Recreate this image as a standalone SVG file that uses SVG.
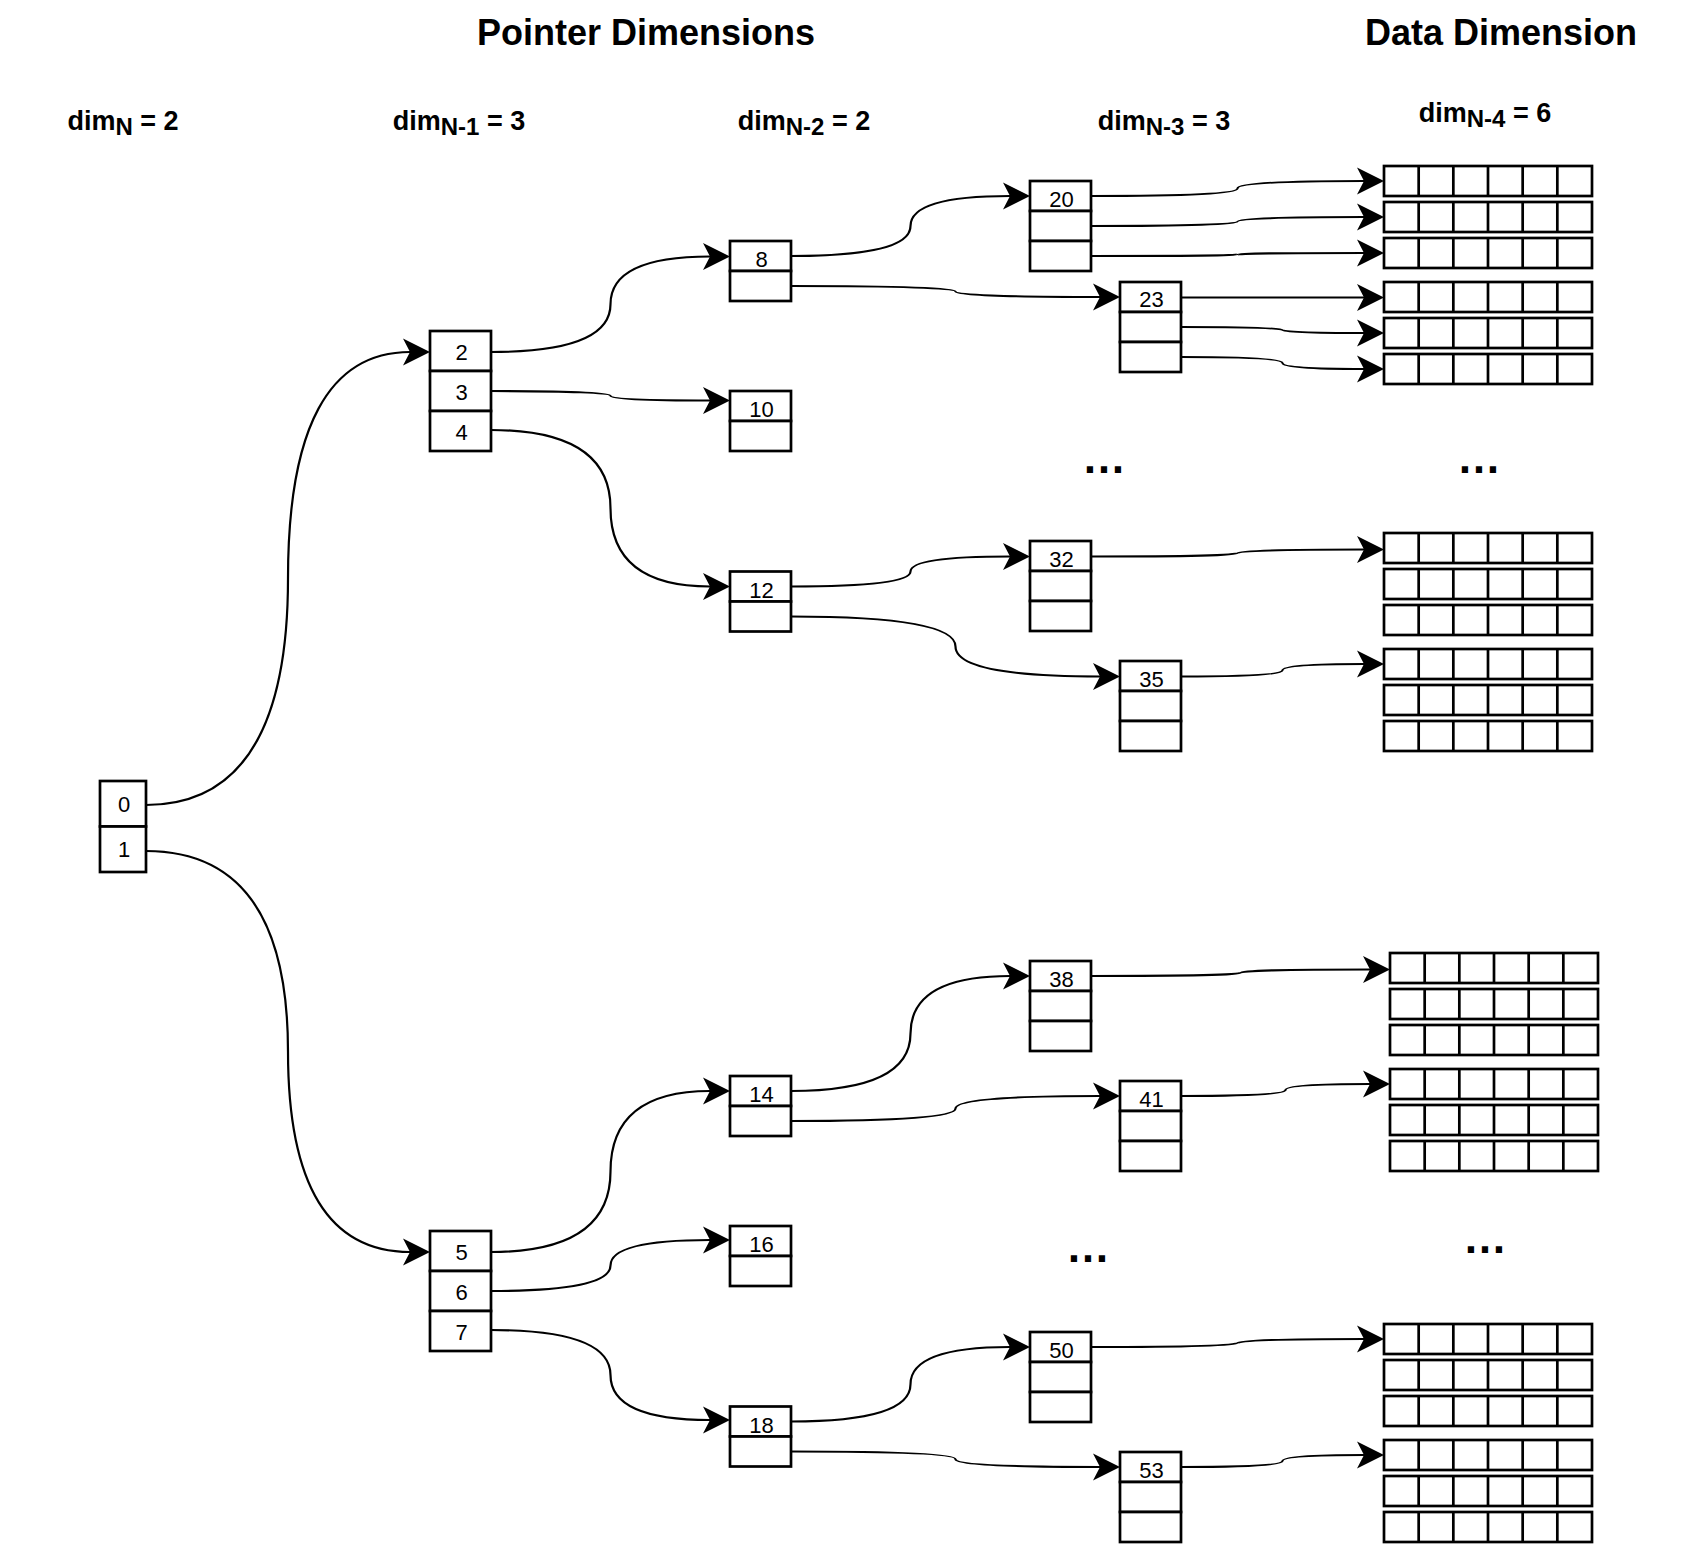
<svg xmlns="http://www.w3.org/2000/svg" width="1707" height="1545" viewBox="0 0 1707 1545">
<style>
text{font-family:"Liberation Sans",Arial,Helvetica,sans-serif;fill:#000}
.title{font-size:36px;font-weight:bold;text-anchor:middle}
.hdr{font-size:27px;font-weight:bold;text-anchor:middle}
.sub{font-size:24px}
.num{font-size:22px;text-anchor:middle}
.dots{font-size:44px;font-weight:bold;text-anchor:middle}
.cell{fill:#fff;stroke:#000;stroke-width:2.7}
.grid{fill:#fff;stroke:#000;stroke-width:2.7}
.edge{fill:none;stroke:#000;stroke-width:2.2;marker-end:url(#arr)}
</style>
<defs>
<marker id="arr" markerUnits="userSpaceOnUse" markerWidth="28" markerHeight="28" viewBox="0 -14 28 28" refX="7" refY="0" orient="auto">
<path d="M27,0 L0,-13.5 L7,0 L0,13.5 Z" fill="#000"/>
</marker>
<g id="row">
<rect class="grid" x="0" y="0" width="208" height="30"/>
<path class="grid" d="M34.67,0V30M69.33,0V30M104,0V30M138.67,0V30M173.33,0V30"/>
</g>
</defs>
<rect width="1707" height="1545" fill="#fff"/>

<g id="titles">
<text class="title" x="646" y="45">Pointer Dimensions</text>
<text class="title" x="1501" y="45">Data Dimension</text>
<text class="hdr" x="123" y="130">dim<tspan class="sub" dy="5">N</tspan><tspan dy="-5"> = 2</tspan></text>
<text class="hdr" x="459" y="130">dim<tspan class="sub" dy="5">N-1</tspan><tspan dy="-5"> = 3</tspan></text>
<text class="hdr" x="804" y="129.5">dim<tspan class="sub" dy="5">N-2</tspan><tspan dy="-5"> = 2</tspan></text>
<text class="hdr" x="1164" y="129.5">dim<tspan class="sub" dy="5">N-3</tspan><tspan dy="-5"> = 3</tspan></text>
<text class="hdr" x="1485" y="122">dim<tspan class="sub" dy="5">N-4</tspan><tspan dy="-5"> = 6</tspan></text>
<text class="dots" x="1104" y="473">…</text>
<text class="dots" x="1479" y="473">…</text>
<text class="dots" x="1088" y="1262">…</text>
<text class="dots" x="1485" y="1253">…</text>
</g>

<g id="connectors">
<path class="edge" d="M146,805 Q288,805 288,578.5 Q288,352 410,352"/>
<path class="edge" d="M146,851 Q288,851 288,1051.5 Q288,1252 410,1252"/>
<path class="edge" d="M491,352 Q610.5,352 610.5,304.25 Q610.5,256.5 710,256.5"/>
<path class="edge" d="M491,391 Q610.5,391 610.5,395.75 Q610.5,400.5 710,400.5"/>
<path class="edge" d="M491,430 Q610.5,430 610.5,508.25 Q610.5,586.5 710,586.5"/>
<path class="edge" d="M491,1252 Q610.5,1252 610.5,1171.5 Q610.5,1091 710,1091"/>
<path class="edge" d="M491,1291 Q610.5,1291 610.5,1265.5 Q610.5,1240 710,1240"/>
<path class="edge" d="M491,1330 Q610.5,1330 610.5,1375 Q610.5,1420 710,1420"/>
<path class="edge" d="M791,256 Q910.5,256 910.5,226 Q910.5,196 1010,196"/>
<path class="edge" d="M791,286 Q955.5,286 955.5,291.5 Q955.5,297 1100,297"/>
<path class="edge" d="M791,586.5 Q910.5,586.5 910.5,571.5 Q910.5,556.5 1010,556.5"/>
<path class="edge" d="M791,616.5 Q955.5,616.5 955.5,646.5 Q955.5,676.5 1100,676.5"/>
<path class="edge" d="M791,1091 Q910.5,1091 910.5,1033.5 Q910.5,976 1010,976"/>
<path class="edge" d="M791,1121 Q955.5,1121 955.5,1108.5 Q955.5,1096 1100,1096"/>
<path class="edge" d="M791,1421.5 Q910.5,1421.5 910.5,1384.25 Q910.5,1347 1010,1347"/>
<path class="edge" d="M791,1451.5 Q955.5,1451.5 955.5,1459.25 Q955.5,1467 1100,1467"/>
<path class="edge" d="M1091,196 Q1237.5,196 1237.5,188.5 Q1237.5,181 1364,181"/>
<path class="edge" d="M1091,226 Q1237.5,226 1237.5,221.5 Q1237.5,217 1364,217"/>
<path class="edge" d="M1091,256 Q1237.5,256 1237.5,254.5 Q1237.5,253 1364,253"/>
<path class="edge" d="M1181,297.5 L1364,297.5"/>
<path class="edge" d="M1181,327 Q1282.5,327 1282.5,330 Q1282.5,333 1364,333"/>
<path class="edge" d="M1181,357 Q1282.5,357 1282.5,363 Q1282.5,369 1364,369"/>
<path class="edge" d="M1091,556.5 Q1237.5,556.5 1237.5,553 Q1237.5,549.5 1364,549.5"/>
<path class="edge" d="M1181,676.5 Q1282.5,676.5 1282.5,670.25 Q1282.5,664 1364,664"/>
<path class="edge" d="M1091,976 Q1240.5,976 1240.5,972.75 Q1240.5,969.5 1370,969.5"/>
<path class="edge" d="M1181,1096 Q1285.5,1096 1285.5,1090 Q1285.5,1084 1370,1084"/>
<path class="edge" d="M1091,1347 Q1237.5,1347 1237.5,1343 Q1237.5,1339 1364,1339"/>
<path class="edge" d="M1181,1467 Q1282.5,1467 1282.5,1461 Q1282.5,1455 1364,1455"/>
</g>

<g id="node-0-1">
<rect class="cell" x="100" y="781" width="46" height="45.5"/>
<rect class="cell" x="100" y="826.5" width="46" height="45.5"/>
<text class="num" x="124" y="812">0</text>
<text class="num" x="124" y="857">1</text>
</g>

<g id="node-2-3-4">
<rect class="cell" x="430" y="331" width="61" height="40"/>
<rect class="cell" x="430" y="371" width="61" height="40"/>
<rect class="cell" x="430" y="411" width="61" height="40"/>
<text class="num" x="461.5" y="360">2</text>
<text class="num" x="461.5" y="400">3</text>
<text class="num" x="461.5" y="440">4</text>
</g>

<g id="node-5-6-7">
<rect class="cell" x="430" y="1231" width="61" height="40"/>
<rect class="cell" x="430" y="1271" width="61" height="40"/>
<rect class="cell" x="430" y="1311" width="61" height="40"/>
<text class="num" x="461.5" y="1260">5</text>
<text class="num" x="461.5" y="1300">6</text>
<text class="num" x="461.5" y="1340">7</text>
</g>

<g id="node-8">
<rect class="cell" x="730" y="241" width="61" height="30"/>
<rect class="cell" x="730" y="271" width="61" height="30"/>
<text class="num" x="761.5" y="267">8</text>
</g>
<g id="node-10">
<rect class="cell" x="730" y="391" width="61" height="30"/>
<rect class="cell" x="730" y="421" width="61" height="30"/>
<text class="num" x="761.5" y="417">10</text>
</g>
<g id="node-12">
<rect class="cell" x="730" y="571.5" width="61" height="30"/>
<rect class="cell" x="730" y="601.5" width="61" height="30"/>
<text class="num" x="761.5" y="597.5">12</text>
</g>
<g id="node-14">
<rect class="cell" x="730" y="1076" width="61" height="30"/>
<rect class="cell" x="730" y="1106" width="61" height="30"/>
<text class="num" x="761.5" y="1102">14</text>
</g>
<g id="node-16">
<rect class="cell" x="730" y="1226" width="61" height="30"/>
<rect class="cell" x="730" y="1256" width="61" height="30"/>
<text class="num" x="761.5" y="1252">16</text>
</g>
<g id="node-18">
<rect class="cell" x="730" y="1406.5" width="61" height="30"/>
<rect class="cell" x="730" y="1436.5" width="61" height="30"/>
<text class="num" x="761.5" y="1432.5">18</text>
</g>

<g id="node-20">
<rect class="cell" x="1030" y="181" width="61" height="30"/>
<rect class="cell" x="1030" y="211" width="61" height="30"/>
<rect class="cell" x="1030" y="241" width="61" height="30"/>
<text class="num" x="1061.5" y="207">20</text>
</g>
<g id="node-23">
<rect class="cell" x="1120" y="282" width="61" height="30"/>
<rect class="cell" x="1120" y="312" width="61" height="30"/>
<rect class="cell" x="1120" y="342" width="61" height="30"/>
<text class="num" x="1151.5" y="307">23</text>
</g>
<g id="node-32">
<rect class="cell" x="1030" y="541" width="61" height="30"/>
<rect class="cell" x="1030" y="571" width="61" height="30"/>
<rect class="cell" x="1030" y="601" width="61" height="30"/>
<text class="num" x="1061.5" y="567">32</text>
</g>
<g id="node-35">
<rect class="cell" x="1120" y="661" width="61" height="30"/>
<rect class="cell" x="1120" y="691" width="61" height="30"/>
<rect class="cell" x="1120" y="721" width="61" height="30"/>
<text class="num" x="1151.5" y="687">35</text>
</g>
<g id="node-38">
<rect class="cell" x="1030" y="961" width="61" height="30"/>
<rect class="cell" x="1030" y="991" width="61" height="30"/>
<rect class="cell" x="1030" y="1021" width="61" height="30"/>
<text class="num" x="1061.5" y="987">38</text>
</g>
<g id="node-41">
<rect class="cell" x="1120" y="1081" width="61" height="30"/>
<rect class="cell" x="1120" y="1111" width="61" height="30"/>
<rect class="cell" x="1120" y="1141" width="61" height="30"/>
<text class="num" x="1151.5" y="1107">41</text>
</g>
<g id="node-50">
<rect class="cell" x="1030" y="1332" width="61" height="30"/>
<rect class="cell" x="1030" y="1362" width="61" height="30"/>
<rect class="cell" x="1030" y="1392" width="61" height="30"/>
<text class="num" x="1061.5" y="1358">50</text>
</g>
<g id="node-53">
<rect class="cell" x="1120" y="1452" width="61" height="30"/>
<rect class="cell" x="1120" y="1482" width="61" height="30"/>
<rect class="cell" x="1120" y="1512" width="61" height="30"/>
<text class="num" x="1151.5" y="1478">53</text>
</g>

<g id="data-20">
<use href="#row" x="1384" y="166"/>
<use href="#row" x="1384" y="202"/>
<use href="#row" x="1384" y="238"/>
</g>
<g id="data-23">
<use href="#row" x="1384" y="282"/>
<use href="#row" x="1384" y="318"/>
<use href="#row" x="1384" y="354"/>
</g>
<g id="data-32">
<use href="#row" x="1384" y="533"/>
<use href="#row" x="1384" y="569"/>
<use href="#row" x="1384" y="605"/>
</g>
<g id="data-35">
<use href="#row" x="1384" y="649"/>
<use href="#row" x="1384" y="685"/>
<use href="#row" x="1384" y="721"/>
</g>
<g id="data-38">
<use href="#row" x="1390" y="953"/>
<use href="#row" x="1390" y="989"/>
<use href="#row" x="1390" y="1025"/>
</g>
<g id="data-41">
<use href="#row" x="1390" y="1069"/>
<use href="#row" x="1390" y="1105"/>
<use href="#row" x="1390" y="1141"/>
</g>
<g id="data-50">
<use href="#row" x="1384" y="1324"/>
<use href="#row" x="1384" y="1360"/>
<use href="#row" x="1384" y="1396"/>
</g>
<g id="data-53">
<use href="#row" x="1384" y="1440"/>
<use href="#row" x="1384" y="1476"/>
<use href="#row" x="1384" y="1512"/>
</g>
</svg>
